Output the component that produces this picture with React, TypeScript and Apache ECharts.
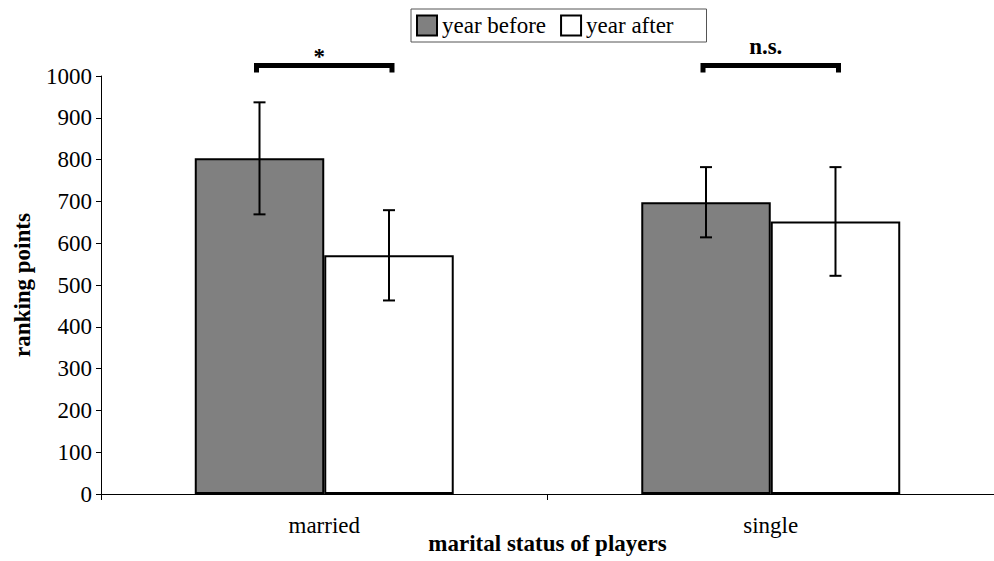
import React, { useEffect, useRef } from "react";
import * as echarts from "echarts";

const categories = ["married", "single"];
const seriesNames = ["year before", "year after"];
const yearBefore = [803, 698];
const yearAfter = [571, 652];
const errBefore = [134, 84];
const errAfter = [108, 130];
const yTicks = { min: 0, max: 1000, interval: 100 };
const sigLabels = ["*", "n.s."];
const sigLevel = [1025, 1025];

const FONT = "Liberation Serif";
const FS = 23;
const GAP = 0.42;

export default function App() {
  const ref = useRef<HTMLDivElement>(null);
  useEffect(() => {
    const chart = echarts.init(ref.current!, undefined, { renderer: "svg" });

    const errData: any[] = [];
    categories.forEach((_, i) => {
      errData.push([i, yearBefore[i] - errBefore[i], yearBefore[i] + errBefore[i], -1]);
      errData.push([i, yearAfter[i] - errAfter[i], yearAfter[i] + errAfter[i], 1]);
    });
    const sigData = categories.map((_, i) => [i, sigLevel[i], sigLabels[i]]);

    chart.setOption({
      animation: false,
      textStyle: { fontFamily: FONT, color: "#000" },
      grid: { left: 101, right: 0, top: 76, bottom: 67, containLabel: false, outerBoundsMode: "none" },
      legend: {
        data: seriesNames,
        left: 411,
        top: 9,
        padding: [5, 33, 5, 5],
        itemGap: 14,
        itemWidth: 20,
        itemHeight: 20,
        icon: "rect",
        borderColor: "#555",
        borderWidth: 1,
        backgroundColor: "#fff",
        textStyle: { fontFamily: FONT, fontSize: FS, color: "#000", lineHeight: 23 },
        itemStyle: { borderColor: "#000", borderWidth: 2 },
      },
      xAxis: {
        type: "category",
        data: categories,
        name: "marital status of players",
        nameLocation: "middle",
        nameGap: 38,
        nameMoveOverlap: false,
        nameTextStyle: { fontFamily: FONT, fontSize: FS, fontWeight: "bold", color: "#000" },
        axisLine: { lineStyle: { color: "#000", width: 1 } },
        axisTick: { show: true, length: 6, lineStyle: { color: "#000" } },
        axisLabel: { fontFamily: FONT, fontSize: FS, color: "#000", margin: 20 },
      },
      yAxis: {
        type: "value",
        min: yTicks.min,
        max: yTicks.max,
        interval: yTicks.interval,
        name: "ranking points",
        nameLocation: "middle",
        nameGap: 67,
        nameMoveOverlap: false,
        nameTextStyle: { fontFamily: FONT, fontSize: FS, fontWeight: "bold", color: "#000" },
        axisLine: { show: true, lineStyle: { color: "#000", width: 1 } },
        axisTick: { show: true, length: 5, lineStyle: { color: "#000" } },
        axisLabel: { fontFamily: FONT, fontSize: FS, color: "#000", margin: 9, formatter: (v: number) => String(v) },
        splitLine: { show: false },
      },
      series: [
        {
          name: seriesNames[0],
          type: "bar",
          data: yearBefore,
          barGap: "0%",
          barCategoryGap: GAP * 100 + "%",
          itemStyle: { color: "#808080", borderColor: "#000", borderWidth: 2 },
        },
        {
          name: seriesNames[1],
          type: "bar",
          data: yearAfter,
          barGap: "0%",
          barCategoryGap: GAP * 100 + "%",
          itemStyle: { color: "#fff", borderColor: "#000", borderWidth: 2 },
        },
        {
          type: "custom",
          clip: false,
          z: 10,
          data: errData,
          renderItem: (params: any, api: any) => {
            const band = api.size([1, 0])[0];
            const bw = (band * (1 - GAP)) / 2;
            const c = api.coord([api.value(0), api.value(1)]);
            const h = api.coord([api.value(0), api.value(2)]);
            const x = c[0] + (api.value(3) * bw) / 2;
            const cap = 6;
            const st = { stroke: "#000", lineWidth: 2 };
            return {
              type: "group",
              children: [
                { type: "line", shape: { x1: x, y1: c[1], x2: x, y2: h[1] }, style: st },
                { type: "line", shape: { x1: x - cap, y1: c[1], x2: x + cap, y2: c[1] }, style: st },
                { type: "line", shape: { x1: x - cap, y1: h[1], x2: x + cap, y2: h[1] }, style: st },
              ],
            };
          },
        },
        {
          type: "custom",
          clip: false,
          z: 10,
          data: sigData,
          renderItem: (params: any, api: any) => {
            const band = api.size([1, 0])[0];
            const bw = (band * (1 - GAP)) / 2;
            const p = api.coord([api.value(0), api.value(1)]);
            const half = bw / 2 + 3;
            const label = sigData[params.dataIndex][2] as string;
            const dy = label === "*" ? -9 : -19;
            return {
              type: "group",
              children: [
                {
                  type: "polyline",
                  shape: {
                    points: [
                      [p[0] - half, p[1] + 7],
                      [p[0] - half, p[1]],
                      [p[0] + half, p[1]],
                      [p[0] + half, p[1] + 7],
                    ],
                  },
                  style: { stroke: "#000", lineWidth: 5, fill: "none", lineJoin: "miter" },
                },
                {
                  type: "text",
                  x: p[0] - 5,
                  y: p[1] + dy,
                  style: {
                    text: label,
                    fontFamily: FONT,
                    fontSize: FS,
                    fontWeight: "bold",
                    fill: "#000",
                    align: "center",
                    verticalAlign: "middle",
                  },
                },
              ],
            };
          },
        },
      ],
    });
    return () => chart.dispose();
  }, []);
  return <div ref={ref} style={{ width: 994, height: 561, position: "absolute", left: 0, top: 0 }} />;
}
